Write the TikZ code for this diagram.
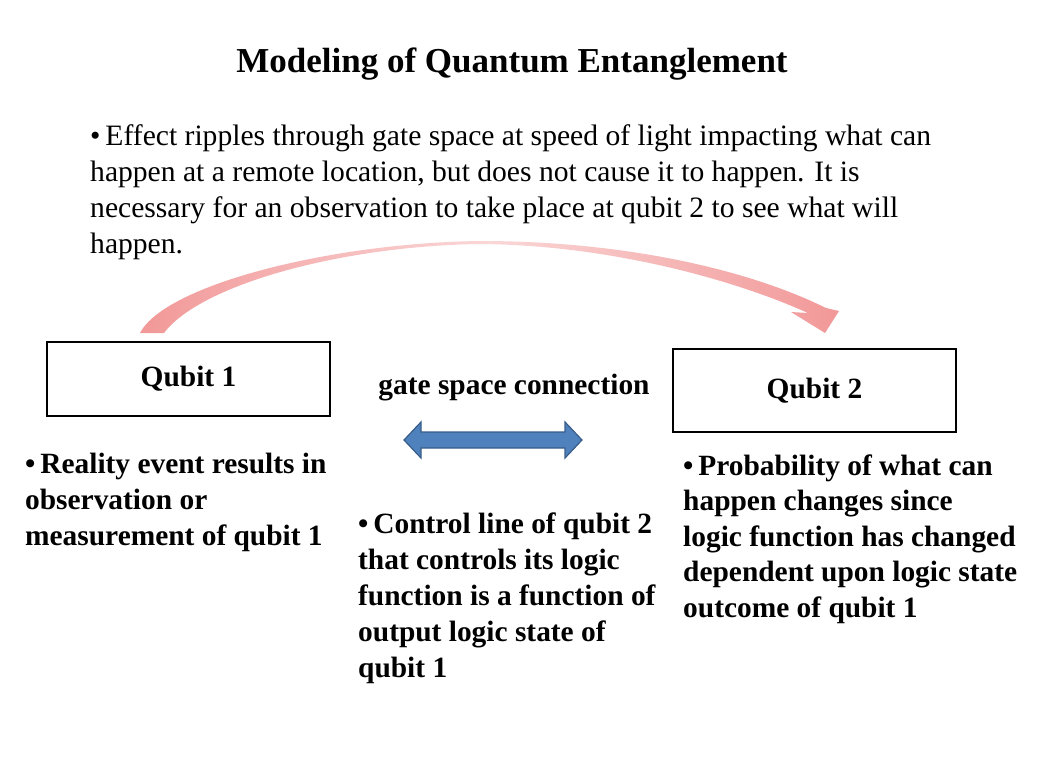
\documentclass[tikz,border=0pt]{standalone}
\usepackage{fontspec}
\setmainfont{Liberation Serif}
\usetikzlibrary{calc}
\definecolor{pinkarrow}{RGB}{242,152,152}
\definecolor{pinklight}{RGB}{250,215,215}
\begin{document}
\begin{tikzpicture}[x=1pt,y=-1pt,
  txt/.style={anchor=base west,inner sep=0pt,align=left,font=\fontsize{29.6}{36}\selectfont},
  btxt/.style={txt,font=\fontsize{29.4}{36}\selectfont\bfseries},
  qbox/.style={draw,line width=2pt,inner sep=0pt,font=\fontsize{29.4}{30}\selectfont\bfseries},
  pinkc/.style={left color=pinkarrow,right color=pinkarrow,middle color=pinklight,draw=none}]
\useasboundingbox (0,0) rectangle (1041,774);
\fill[white] (0,0) rectangle (1041,774);
\node[anchor=base,inner sep=0pt,font=\fontsize{35}{40}\selectfont\bfseries] (title) at (512,72) {Modeling of Quantum Entanglement};
\node[txt] (top) at (90,253) {\textbullet\,Effect ripples through gate space at speed of light impacting what can\\happen at a remote location, but does not cause it to happen. It is\\necessary for an observation to take place at qubit 2 to see what will\\happen.};
\node[qbox,minimum width=283pt,minimum height=74pt] (q1) at (188.5,379) {Qubit 1};
\node[qbox,minimum width=283pt,minimum height=83pt] (q2) at (814.5,390.5) {Qubit 2};
\node[anchor=base,inner sep=0pt,font=\fontsize{29.4}{30}\selectfont\bfseries] (gsc) at (514,394) {gate space connection};
\node[btxt] (t1) at (25,545) {\textbullet\,Reality event results in\\observation or\\measurement of qubit 1};
\node[btxt] (t2) at (358,677) {\textbullet\,Control line of qubit 2\\that controls its logic\\function is a function of\\output logic state of\\qubit 1};
\node[btxt,font=\fontsize{29.4}{35.5}\selectfont\bfseries] (t3) at (683,617) {\textbullet\,Probability of what can\\happen changes since\\logic function has changed\\dependent upon logic state\\outcome of qubit 1};
% double arrow
\coordinate (da) at (404,440);
\coordinate (db) at (582,440);
\filldraw[fill={rgb,255:red,79;green,129;blue,189},draw={rgb,255:red,56;green,93;blue,138},line width=1.2pt]
  (da) -- ++(17,-18) -- ++(0,10) -- ($(db)+(-17,-8)$) -- ++(0,-10) -- (db) -- ++(-17,18) -- ++(0,-10) -- ($(da)+(17,8)$) -- ++(0,10) -- cycle;
% curved arrow from q1 to q2
\coordinate (ctip) at (825,333);
\shade[pinkc] (140,333) .. controls (165,285) and (330,243) .. (480,241)
  .. controls (620,241) and (745,268) .. (826,308)
  -- (839,311) -- (ctip) -- (791,312) -- (808,313)
  .. controls (735,280) and (610,245) .. (480,244)
  .. controls (340,246) and (200,285) .. (164,333) -- cycle;
\end{tikzpicture}
\end{document}
